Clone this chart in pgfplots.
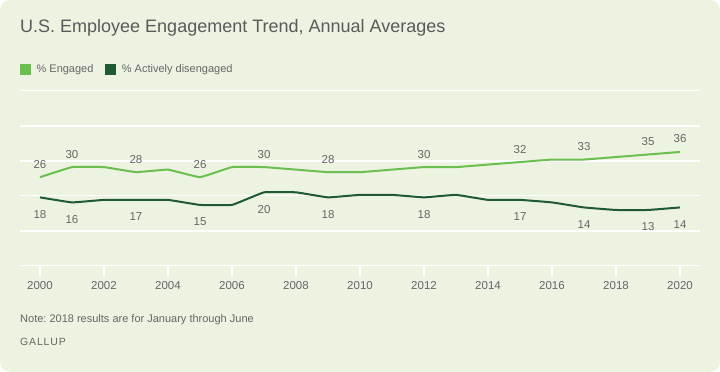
\documentclass[border=0pt]{standalone}
\usepackage{pgfplots}
\pgfplotsset{compat=1.18}
\usepackage{fontspec}
\setmainfont{Liberation Sans}
\frenchspacing
\definecolor{bg}{HTML}{ECF3E1}
\definecolor{eng}{HTML}{6ABF4F}
\definecolor{dis}{HTML}{1F5A33}
\definecolor{txt}{HTML}{666666}
\definecolor{ttl}{HTML}{5A5A5A}
\begin{document}
\begin{tikzpicture}
\fill[white] (0pt,0pt) rectangle (720pt,372pt);
\fill[bg, rounded corners=10pt] (0pt,0pt) rectangle (720pt,372pt);
\node[anchor=west, font=\fontsize{18}{20}\selectfont, text=ttl, inner sep=0] at (20pt,344pt) {U.S. Employee Engagement Trend, Annual Averages};
\node[anchor=west, font=\fontsize{11}{13}\selectfont, text=txt, inner sep=0] at (20pt,52pt) {Note: 2018 results are for January through June};
\node[anchor=west, font=\fontsize{10.5}{12}\selectfont\addfontfeatures{LetterSpace=8}, text=txt, inner sep=0] at (20pt,30.3pt) {GALLUP};
\begin{axis}[
  at={(20pt,106.3pt)}, anchor=south west,
  width=680pt, height=175pt, scale only axis,
  xmin=1999.375, xmax=2020.625,
  ymin=-9.1, ymax=60.3,
  ytick={-9.1,4.7,18.6,32.4,46.3,60.3},
  yticklabels={},
  ymajorgrids,
  grid style={white, line width=1.3pt},
  axis line style={draw=none},
  xtick={2000,2002,...,2020},
  xtick pos=bottom,
  ytick style={draw=none},
  x tick style={white, line width=1.3pt},
  major tick length=10pt,
  tick align=outside,
  xticklabel style={font=\fontsize{11.5}{13}\selectfont, text=txt, yshift=-2pt},
  /pgf/number format/1000 sep={},
  /pgf/number format/assume math mode=true,
  clip=false,
  legend columns=2,
  legend style={draw=none, fill=none, at={(axis description cs:0,1)}, anchor=west, yshift=21.7pt, xshift=-3pt,
    font=\fontsize{11}{13}\selectfont, text=txt, /tikz/every even column/.append style={column sep=10pt}},
  legend cell align=left,
]
\addlegendimage{legend image code/.code={\fill[eng] (0pt,-5pt) rectangle (10pt,5pt); \path (14pt,0pt);}}
\addlegendentry{\% Engaged}
\addlegendimage{legend image code/.code={\fill[dis] (0pt,-5pt) rectangle (10pt,5pt); \path (14pt,0pt);}}
\addlegendentry{\% Actively disengaged}
\addplot[eng, line width=2pt, smooth, tension=0.15, forget plot] coordinates {
(2000,26)(2001,30)(2002,30)(2003,28)(2004,29)(2005,26)(2006,30)(2007,30)(2008,29)(2009,28)(2010,28)
(2011,29)(2012,30)(2013,30)(2014,31)(2015,32)(2016,33)(2017,33)(2018,34)(2019,35)(2020,36)};
\addplot[dis, line width=2pt, smooth, tension=0.15, forget plot] coordinates {
(2000,18)(2001,16)(2002,17)(2003,17)(2004,17)(2005,15)(2006,15)(2007,20)(2008,20)(2009,18)(2010,19)
(2011,19)(2012,18)(2013,19)(2014,17)(2015,17)(2016,16)(2017,14)(2018,13)(2019,13)(2020,14)};
\addplot[draw=none, mark=none, forget plot, nodes near coords,
  every node near coord/.append style={anchor=center, yshift=13pt, font=\fontsize{11.5}{13}\selectfont, text=txt}]
  coordinates {(2000,26)(2001,30)(2003,28)(2005,26)(2007,30)(2009,28)(2012,30)(2015,32)(2017,33)(2019,35)(2020,36)};
\addplot[draw=none, mark=none, forget plot, nodes near coords,
  every node near coord/.append style={anchor=center, yshift=-17pt, font=\fontsize{11.5}{13}\selectfont, text=txt}]
  coordinates {(2000,18)(2001,16)(2003,17)(2005,15)(2007,20)(2009,18)(2012,18)(2015,17)(2017,14)(2019,13)(2020,14)};
\end{axis}
\end{tikzpicture}
\end{document}
